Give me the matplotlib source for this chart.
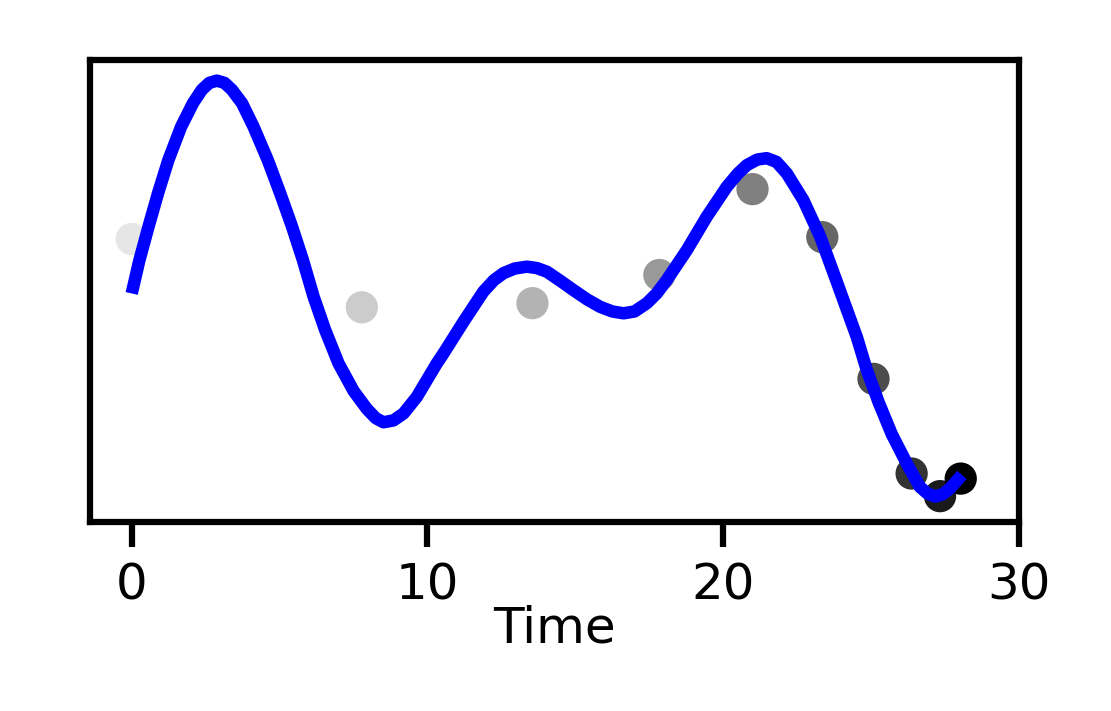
import matplotlib
matplotlib.use("Agg")
import matplotlib.pyplot as plt

# observed data (time, value) - value in arbitrary units
obs_time = [0.0, 7.78, 13.55, 17.84, 20.99, 23.35, 25.08, 26.37, 27.33, 28.03]
obs_value = [0.613, 0.465, 0.474, 0.535, 0.721, 0.617, 0.310, 0.105, 0.056, 0.094]
obs_gray = [0.9, 0.8, 0.7, 0.6, 0.5, 0.4, 0.3, 0.2, 0.1, 0.0]

# fitted curve
fit_time = [0.00, 0.26, 0.57, 0.89, 1.24, 1.67, 2.07, 2.37, 2.62, 2.88, 3.14,
            3.39, 3.73, 4.12, 4.60, 5.02, 5.42, 5.79, 6.15, 6.54, 6.99, 7.50,
            7.95, 8.25, 8.51, 8.85, 9.19, 9.64, 10.32, 10.54, 11.22, 11.89,
            12.25, 12.57, 12.95, 13.36, 13.70, 14.04, 14.50, 14.94, 15.40,
            15.84, 16.25, 16.63, 17.00, 17.42, 17.75, 18.09, 18.77, 19.44,
            20.12, 20.50, 20.80, 21.15, 21.47, 21.80, 22.15, 22.71, 23.28,
            23.84, 24.52, 24.85, 25.25, 25.70, 26.26, 26.65, 26.90,
            27.16, 27.42, 27.67, 28.07]
fit_value = [0.495, 0.567, 0.640, 0.712, 0.784, 0.856, 0.907, 0.936, 0.951,
             0.956, 0.951, 0.936, 0.907, 0.856, 0.784, 0.712, 0.640, 0.567,
             0.488, 0.416, 0.344, 0.284, 0.245, 0.225, 0.216, 0.220, 0.235,
             0.271, 0.344, 0.365, 0.434, 0.499, 0.524, 0.539, 0.549, 0.553,
             0.550, 0.542, 0.522, 0.502, 0.482, 0.466, 0.456, 0.452, 0.456,
             0.474, 0.495, 0.524, 0.589, 0.661, 0.726, 0.755, 0.773, 0.785,
             0.788, 0.780, 0.755, 0.697, 0.618, 0.520, 0.400, 0.330,
             0.260, 0.190, 0.120, 0.076, 0.062, 0.055, 0.060, 0.073, 0.102]

xticks = [0, 10, 20, 30]

fig = plt.figure(figsize=(1111 / 300, 711 / 300), dpi=300)
ax = fig.add_axes([90.3 / 1111, 1 - 522 / 711, (1019 - 90.3) / 1111, (522 - 60.3) / 711])

ax.scatter(obs_time, obs_value, s=60, c=[str(g) for g in obs_gray],
           linewidths=0, zorder=2)
ax.plot(fit_time, fit_value, color="blue", lw=3.0, solid_capstyle="butt",
        solid_joinstyle="round", zorder=3)

ax.set_xlim(-1.4, 30)
ax.set_ylim(0, 1)
ax.set_xticks(xticks)
ax.set_yticks([])
ax.tick_params(axis="x", length=6, width=1.5, labelsize=12, pad=3.5)
for sp in ax.spines.values():
    sp.set_linewidth(1.5)
ax.set_xlabel("Time", fontsize=12, labelpad=-1.2)

fig.savefig("out.png", dpi=300)
